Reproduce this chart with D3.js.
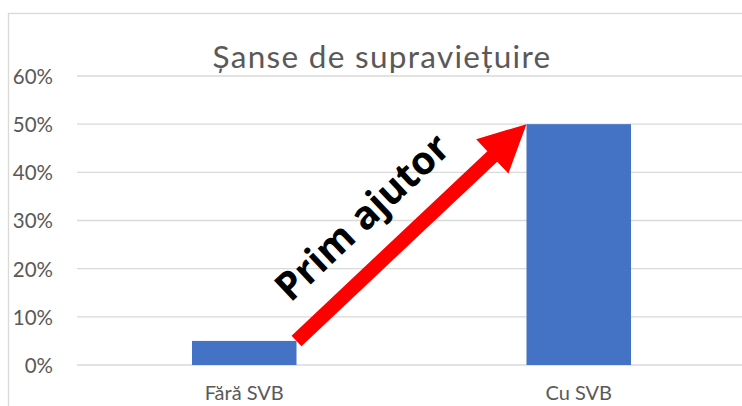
<!DOCTYPE html>
<html>
<head>
<meta charset="utf-8">
<script src="https://cdn.jsdelivr.net/npm/d3@7"></script>
<style>
  html, body { margin: 0; padding: 0; background: #fff; overflow: hidden; }
  svg { display: block; }
</style>
</head>
<body>
<script>
const categories = ["Fără SVB", "Cu SVB"];
const values = [5, 50];
const yTicks = [0, 10, 20, 30, 40, 50, 60];
const chartTitle = "Șanse de supraviețuire";
const arrowLabel = "Prim ajutor";

const W = 742, H = 406;
const svg = d3.select("body").append("svg").attr("width", W).attr("height", H);
svg.append("rect").attr("width", W).attr("height", H).attr("fill", "#fff");

// chart border
svg.append("rect")
  .attr("x", 8.5).attr("y", 13.5).attr("width", 800).attr("height", 500)
  .attr("fill", "none").attr("stroke", "#d9d9d9").attr("stroke-width", 1.3);

const y = d3.scaleLinear().domain([0, 60]).range([365, 76]);
const x = d3.scaleBand().domain(categories).range([77, 746]).padding(0);
const barW = x.bandwidth() / 3.2;

// gridlines
svg.append("g").selectAll("line").data(yTicks).join("line")
  .attr("x1", 77).attr("x2", 746)
  .attr("y1", d => y(d)).attr("y2", d => y(d))
  .attr("stroke", "#d9d9d9").attr("stroke-width", 1.4);

// y axis labels
const yAxis = d3.axisLeft(y).tickValues(yTicks).tickSize(0).tickPadding(24)
  .tickFormat(d => d + "%");
const gy = svg.append("g").attr("transform", "translate(77,0)").call(yAxis);
gy.select(".domain").remove();
gy.selectAll("text")
  .attr("font-family", "Lato, 'Open Sans', sans-serif")
  .attr("font-size", 20.5).attr("fill", "#595959").attr("dy", "0.36em");

// bars
svg.append("g").selectAll("rect").data(values).join("rect")
  .attr("x", (d, i) => x(categories[i]) + (x.bandwidth() - barW) / 2)
  .attr("width", barW)
  .attr("y", d => y(d))
  .attr("height", d => y(0) - y(d))
  .attr("fill", "#4472c4");

// x axis labels
const xAxis = d3.axisBottom(x).tickSize(0).tickPadding(0);
const gx = svg.append("g").attr("transform", "translate(0,386)").call(xAxis);
gx.select(".domain").remove();
gx.selectAll("text")
  .attr("font-family", "Lato, 'Open Sans', sans-serif")
  .attr("font-size", 20).attr("fill", "#595959").attr("dy", "0.71em");

// title
svg.append("text")
  .attr("x", 382).attr("y", 67.5)
  .attr("text-anchor", "middle")
  .attr("font-family", "Lato, 'Open Sans', sans-serif")
  .attr("font-size", 31.5).attr("letter-spacing", 1.3).attr("fill", "#595959")
  .text(chartTitle);

// arrow from top-right of first bar to top-left of second bar
const x0 = x(categories[0]) + (x.bandwidth() + barW) / 2;
const y0 = y(values[0]);
const x1 = x(categories[1]) + (x.bandwidth() - barW) / 2;
const y1 = y(values[1]);
const ang = Math.atan2(y1 - y0, x1 - x0);
const len = Math.hypot(x1 - x0, y1 - y0);
const sw = 7.2, hl = 47, hw = 23.5;
const pts = [[0, -sw], [len - hl, -sw], [len - hl, -hw], [len, 0], [len - hl, hw], [len - hl, sw], [0, sw]];
const deg = ang * 180 / Math.PI;
svg.append("polygon")
  .attr("points", pts.map(p => p.join(",")).join(" "))
  .attr("transform", `translate(${x0},${y0}) rotate(${deg})`)
  .attr("fill", "#ff0000");

svg.append("text")
  .attr("transform", `translate(${x0},${y0}) rotate(${deg}) translate(${len * 0.42},${-31.5})`)
  .attr("text-anchor", "middle")
  .attr("font-family", "'Open Sans', 'Noto Sans', sans-serif")
  .attr("font-weight", "bold")
  .attr("font-size", 39).attr("fill", "#000")
  .text(arrowLabel);
</script>
</body>
</html>
